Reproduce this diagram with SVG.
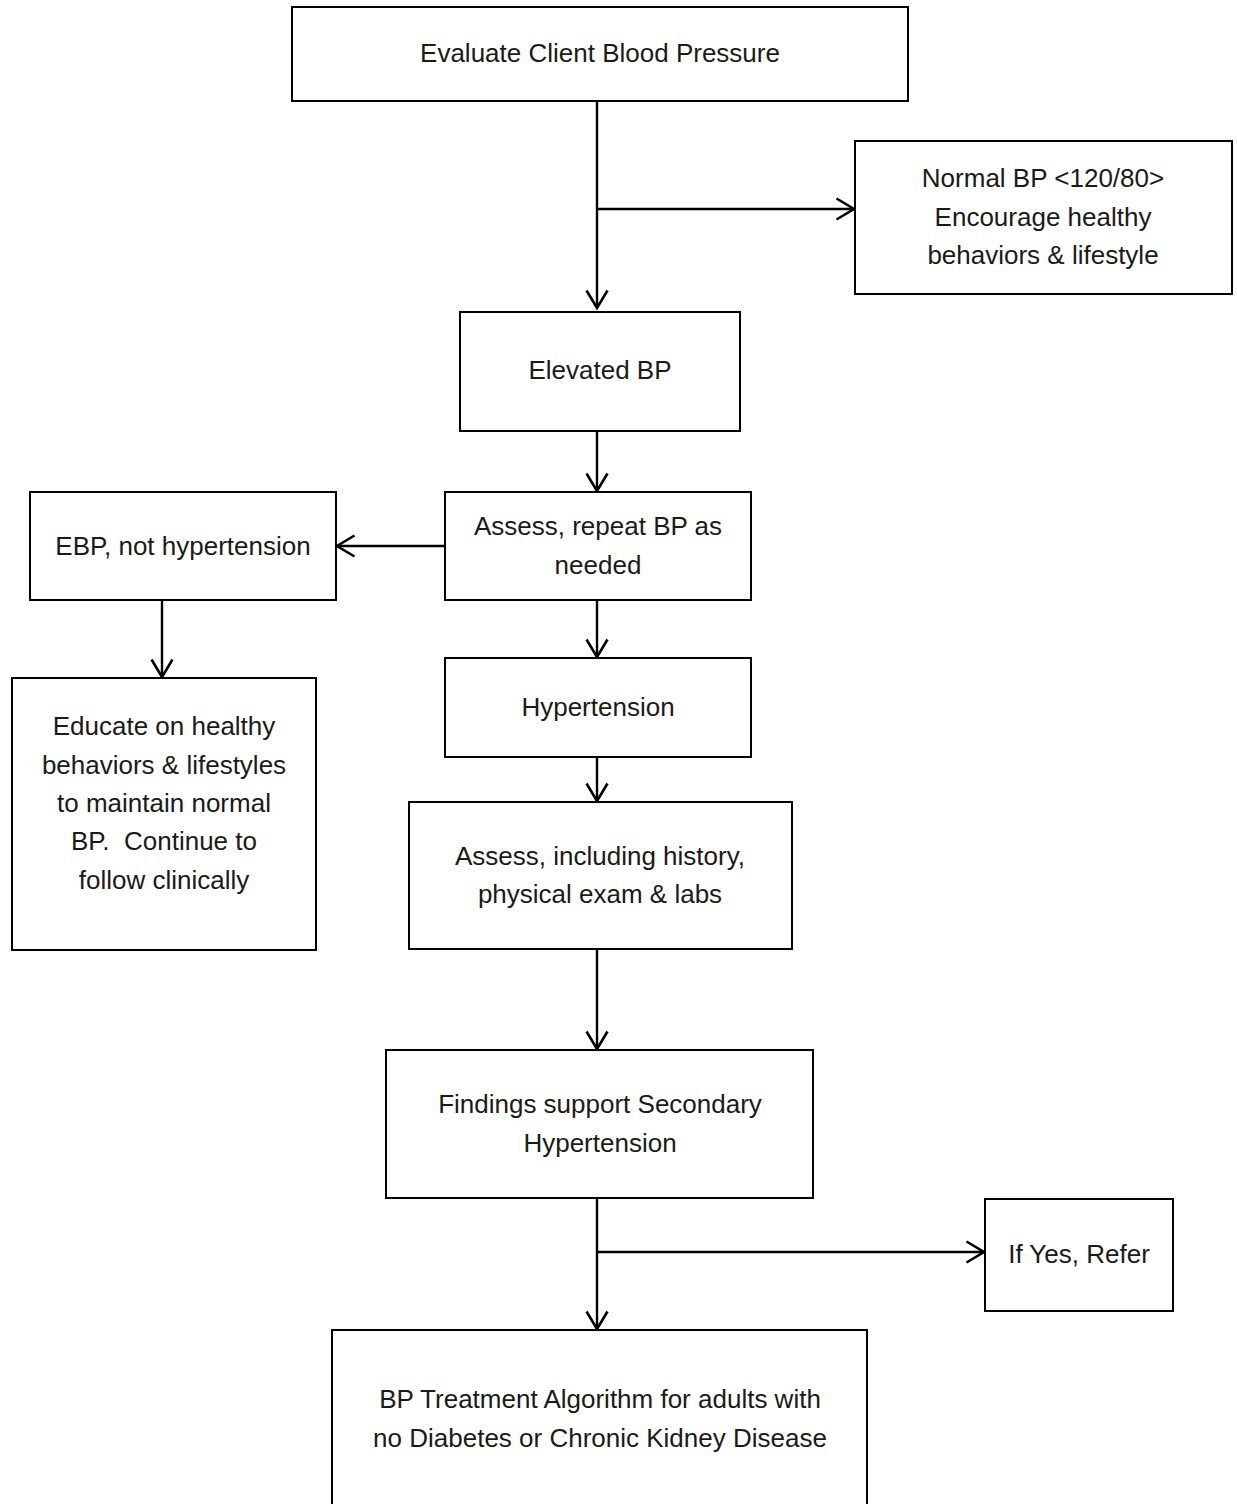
<svg xmlns="http://www.w3.org/2000/svg" width="1237" height="1504" viewBox="0 0 1237 1504">
<defs>
<style>
.box{fill:#fff;stroke:#000;stroke-width:2}
.t{font-family:"Liberation Sans",Arial,sans-serif;font-size:26px;fill:#1a1a1a;text-anchor:middle;dominant-baseline:central;white-space:pre}
.c{fill:none;stroke:#000;stroke-width:2.4}
</style>
<marker id="arr" markerUnits="userSpaceOnUse" markerWidth="26" markerHeight="26" refX="20" refY="12" orient="auto" viewBox="0 0 26 24">
<path d="M2.5,1.5 L20,12 L2.5,22.5" fill="none" stroke="#000" stroke-width="2.6"/>
</marker>
</defs>
<rect width="1237" height="1504" fill="#fff"/>
<g id="connectors">
<path class="c" d="M597,101 V308" marker-end="url(#arr)"/>
<path class="c" d="M597,209 H854" marker-end="url(#arr)"/>
<path class="c" d="M597,431 V491" marker-end="url(#arr)"/>
<path class="c" d="M445,546 H337" marker-end="url(#arr)"/>
<path class="c" d="M162,600 V677" marker-end="url(#arr)"/>
<path class="c" d="M597,600 V657" marker-end="url(#arr)"/>
<path class="c" d="M597,757 V801" marker-end="url(#arr)"/>
<path class="c" d="M597,949 V1049" marker-end="url(#arr)"/>
<path class="c" d="M597,1198 V1329" marker-end="url(#arr)"/>
<path class="c" d="M597,1252 H984" marker-end="url(#arr)"/>
</g>
<g id="n-evaluate">
<rect class="box" x="292" y="7" width="616" height="94"/>
<text class="t" x="600" y="53">Evaluate Client Blood Pressure</text>
</g>
<g id="n-normal">
<rect class="box" x="855" y="141" width="377" height="153"/>
<text class="t" x="1043" y="178">Normal BP &lt;120/80&gt;</text>
<text class="t" x="1043" y="217">Encourage healthy</text>
<text class="t" x="1043" y="255">behaviors &amp; lifestyle</text>
</g>
<g id="n-elevated">
<rect class="box" x="460" y="312" width="280" height="119"/>
<text class="t" x="600" y="370">Elevated BP</text>
</g>
<g id="n-assess-repeat">
<rect class="box" x="445" y="492" width="306" height="108"/>
<text class="t" x="598" y="526">Assess, repeat BP as</text>
<text class="t" x="598" y="565">needed</text>
</g>
<g id="n-ebp">
<rect class="box" x="30" y="492" width="306" height="108"/>
<text class="t" x="183" y="546">EBP, not hypertension</text>
</g>
<g id="n-educate">
<rect class="box" x="12" y="678" width="304" height="272"/>
<text class="t" x="164" y="726">Educate on healthy</text>
<text class="t" x="164" y="765">behaviors &amp; lifestyles</text>
<text class="t" x="164" y="803">to maintain normal</text>
<text class="t" x="164" y="841">BP.&#160; Continue to</text>
<text class="t" x="164" y="880">follow clinically</text>
</g>
<g id="n-hypertension">
<rect class="box" x="445" y="658" width="306" height="99"/>
<text class="t" x="598" y="707">Hypertension</text>
</g>
<g id="n-assess-history">
<rect class="box" x="409" y="802" width="383" height="147"/>
<text class="t" x="600" y="856">Assess, including history,</text>
<text class="t" x="600" y="894">physical exam &amp; labs</text>
</g>
<g id="n-findings">
<rect class="box" x="386" y="1050" width="427" height="148"/>
<text class="t" x="600" y="1104">Findings support Secondary</text>
<text class="t" x="600" y="1143">Hypertension</text>
</g>
<g id="n-refer">
<rect class="box" x="985" y="1199" width="188" height="112"/>
<text class="t" x="1079" y="1254">If Yes, Refer</text>
</g>
<g id="n-treatment">
<rect class="box" x="332" y="1330" width="535" height="190"/>
<text class="t" x="600" y="1399">BP Treatment Algorithm for adults with</text>
<text class="t" x="600" y="1438">no Diabetes or Chronic Kidney Disease</text>
</g>
</svg>
